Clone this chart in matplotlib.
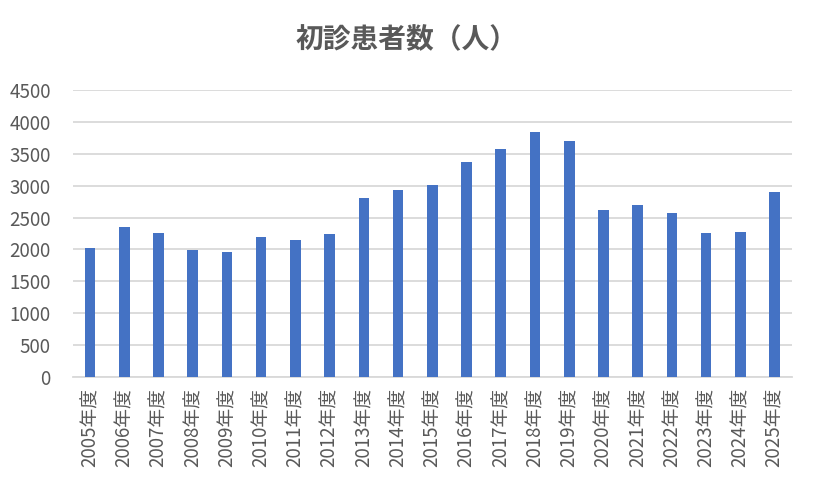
import matplotlib
matplotlib.use("Agg")
import matplotlib.pyplot as plt
import numpy as np

plt.rcParams["font.family"] = ["Noto Sans CJK JP", "DejaVu Sans"]

years = [f"{y}年度" for y in range(2005, 2026)]
patients = [2025, 2355, 2261, 1993, 1962, 2198, 2150, 2245, 2811, 2937,
            3016, 3378, 3582, 3850, 3708, 2623, 2701, 2575, 2261, 2276, 2906]
yticks = np.arange(0, 4501, 500)

text_color = "#595959"

fig = plt.figure(figsize=(8.14, 4.82), dpi=100)
ax = fig.add_axes([0.0896, 0.218, 0.883, 0.595])

x = np.arange(len(years))
ax.bar(x, patients, width=0.31, color="#4472C4", zorder=3)

ax.set_ylim(0, 4500)
ax.set_xlim(-0.5, len(years) - 0.5)
ax.set_yticks(yticks)
ax.set_yticklabels([str(v) for v in yticks])
ax.set_xticks(x)
ax.set_xticklabels(years, rotation=90)
ax.tick_params(axis="both", length=0, labelsize=13.5, colors=text_color)
ax.tick_params(axis="y", pad=16)
ax.tick_params(axis="x", pad=8)

ax.grid(axis="y", color="#d9d9d9", linewidth=1.3, zorder=0)
for side in ["top", "right", "left"]:
    ax.spines[side].set_visible(False)
ax.spines["bottom"].set_color("#d9d9d9")
ax.spines["bottom"].set_linewidth(1.3)

fig.text(0.5, 0.917, "初診患者数（人）", ha="center", va="center",
         fontsize=20, fontweight="bold", color=text_color)

fig.savefig("out.png", dpi=100)
